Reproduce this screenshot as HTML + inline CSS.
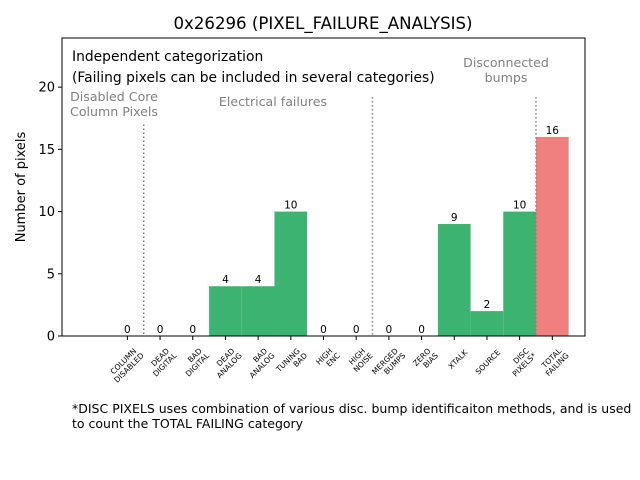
<!DOCTYPE html>
<html><head><meta charset="utf-8"><style>
body{margin:0;background:#fff}
svg{display:block;font-family:"DejaVu Sans","Liberation Sans",sans-serif}
</style></head><body>
<svg id="chart" width="640" height="480" viewBox="0 0 640 480">
<rect width="640" height="480" fill="#fff"/>
<text x="323" y="29" font-size="16.6" text-anchor="middle">0x26296 (PIXEL_FAILURE_ANALYSIS)</text>
<g id="plot"></g>
<text x="25" y="187" font-size="13" text-anchor="middle" transform="rotate(-90 25 187)">Number of pixels</text>
<text x="72" y="61" font-size="13.85">Independent categorization</text>
<text x="72" y="82" font-size="13.85">(Failing pixels can be included in several categories)</text>
<text x="114" y="101" font-size="12.6" fill="#808080" text-anchor="middle"><tspan x="114">Disabled Core</tspan><tspan x="114" dy="15">Column Pixels</tspan></text>
<text x="273" y="106" font-size="12.6" fill="#808080" text-anchor="middle">Electrical failures</text>
<text x="506" y="67" font-size="12.6" fill="#808080" text-anchor="middle"><tspan x="506">Disconnected</tspan><tspan x="506" dy="15">bumps</tspan></text>
<text x="72" y="413" font-size="12.5"><tspan x="72">*DISC PIXELS uses combination of various disc. bump identificaiton methods, and is used</tspan><tspan x="72" dy="15">to count the TOTAL FAILING category</tspan></text>
</svg>
<script>
const categories = [["COLUMN","DISABLED"],["DEAD","DIGITAL"],["BAD","DIGITAL"],["DEAD","ANALOG"],["BAD","ANALOG"],["TUNING","BAD"],["HIGH","ENC"],["HIGH","NOISE"],["MERGED","BUMPS"],["ZERO","BIAS"],["XTALK"],["SOURCE"],["DISC","PIXELS*"],["TOTAL","FAILING"]];
const values = [0,0,0,4,4,10,0,0,0,0,9,2,10,16];
const yTicks = [0,5,10,15,20];
const separators = [0.5,7.5,12.5];
const separatorTops = [17,19.2,19.2];

const L=62,R=585,T=38,B=336,xmin=-2,xmax=14,ymin=0,ymax=23.95;
const xs=v=>L+(v-xmin)/(xmax-xmin)*(R-L);
const ys=v=>B-(v-ymin)/(ymax-ymin)*(B-T);
const NS="http://www.w3.org/2000/svg";
const g=document.getElementById('plot');
function mk(tag,attrs){const e=document.createElementNS(NS,tag);for(const k in attrs)e.setAttribute(k,attrs[k]);g.appendChild(e);return e;}

values.forEach((v,i)=>{
  const r=mk('rect',{x:xs(i-0.5),y:ys(v),width:xs(i+0.5)-xs(i-0.5),height:ys(0)-ys(v),fill:i===values.length-1?'#f08080':'#3cb371'});
  
  
  const t=mk('text',{x:xs(i),y:ys(v)-3,'font-size':10.5,'text-anchor':'middle'});
  t.textContent=v;
  
  
});
separators.forEach((s,i)=>{
  const l=mk('line',{x1:xs(s),x2:xs(s),y1:ys(separatorTops[i]),y2:B,stroke:'#808080','stroke-width':1.5,'stroke-dasharray':'1.5,2.5'});
  
  
});
const frame=mk('rect',{x:L,y:T,width:R-L,height:B-T,fill:'none',stroke:'#000','stroke-width':1});


yTicks.forEach(v=>{
  const l=mk('line',{x1:L-4,x2:L,y1:ys(v),y2:ys(v),stroke:'#000'});
  
  
  const t=mk('text',{x:L-7,y:ys(v)+4.5,'font-size':13,'text-anchor':'end'});
  t.textContent=v;
  
  
});
categories.forEach((c,i)=>{
  const x=xs(i);
  const l=mk('line',{x1:x,x2:x,y1:B,y2:B+4,stroke:'#000'});
  
  
  const ax=x+11, ay=B+14;
  const t=mk('text',{x:ax,y:ay,'font-size':7.6,'text-anchor':'end',transform:`rotate(-45 ${ax} ${ay})`});
  
  
  c.forEach((line,j)=>{
    const sp=document.createElementNS(NS,'tspan');
    sp.setAttribute('x',ax+(j===0 && c.length>1 ? -2 : 0));
    sp.setAttribute('dy',j===0?(c.length>1?0:4):8.5);
    sp.textContent=line;
    t.appendChild(sp);
  });
});
</script>
</body></html>
